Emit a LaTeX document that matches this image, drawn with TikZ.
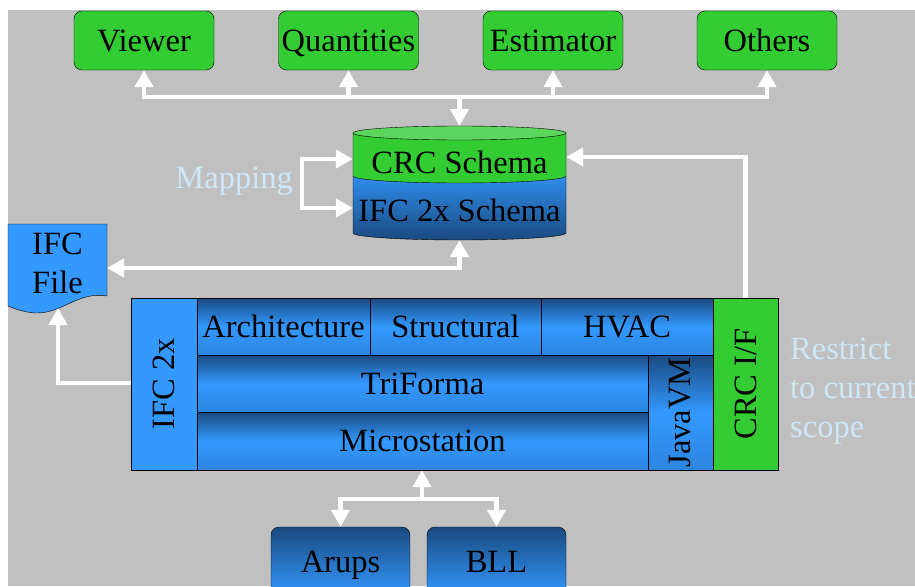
\documentclass[tikz,border=0pt]{standalone}
\usepackage{fontspec}
\setmainfont{Liberation Serif}
\usepackage{tikz}
\usetikzlibrary{arrows.meta,calc,positioning}

\definecolor{bggray}{HTML}{C0C0C0}
\definecolor{boxgreen}{HTML}{33CC33}
\definecolor{lidgreen}{HTML}{5CD65C}
\definecolor{layerblue}{HTML}{3399FF}
\definecolor{darkblue}{HTML}{1A4A80}
\definecolor{paleblue}{HTML}{CCE8F8}

\begin{document}
\begin{tikzpicture}[x=1pt,y=-1pt,
  every node/.style={font=\fontsize{32.5}{39}\selectfont,inner sep=0pt},
  >={Triangle[width=18pt,length=17pt]},
  capline/.style={text height=21.5pt,text depth=0pt},
  appbox/.style={capline,draw=black,rounded corners=8pt,fill=boxgreen,minimum width=140pt,minimum height=59pt},
  partner/.style={capline,draw=black,rounded corners=8pt,top color=darkblue,bottom color=layerblue,minimum width=139pt,minimum height=70pt},
  layer/.style={capline,draw=black,top color=darkblue,bottom color=layerblue!75!darkblue,middle color=layerblue},
  warrow/.style={draw=white,line width=4.5pt,->},
  note/.style={text=paleblue,align=left}]
  \useasboundingbox (0,0) rectangle (915,586);
  \fill[bggray] (8,10) rectangle (915,586);

  % 1) applications on top
  \node[appbox] (viewer) at (144,40.5)   {Viewer};
  \node[appbox] (quant)  at (348.5,40.5) {Quantities};
  \node[appbox] (estim)  at (553,40.5)   {Estimator};
  \node[appbox] (others) at (767,40.5)   {Others};

  % 2) schema cylinder
  \shade[top color=layerblue!85!darkblue,middle color=layerblue,bottom color=darkblue,draw=black]
    (353,176) -- (353,233) arc[start angle=180,end angle=360,x radius=106.5pt,y radius=7pt]
    -- (566,176) -- cycle;
  \fill[boxgreen,draw=black]
    (353,133) -- (353,176) arc[start angle=180,end angle=360,x radius=106.5pt,y radius=7pt]
    -- (566,133) -- cycle;
  \draw[fill=lidgreen] (459.5,133) ellipse[x radius=106.5pt,y radius=7pt];
  \node[capline,minimum width=213pt] (crcs) at (459.5,162.5) {CRC Schema};
  \node[capline,minimum width=213pt] (ifcs) at (459.5,211) {IFC 2x Schema};
  \coordinate (cyltop) at (459.5,126);
  \coordinate (cylbot) at (459.5,240);

  % 3) IFC file (document shape)
  \draw[fill=layerblue] (8,224) -- (107,224) -- (107,296)
    .. controls (78,291) and (62,314) .. (35,313)
    .. controls (22,312) and (13,308) .. (8,306) -- cycle;
  \node[align=center] (ifcfile) at (57.5,263) {IFC\\File};
  \coordinate (filein) at (107,268);
  \coordinate (filebot) at (58,308);

  % 4) the main block
  \node[draw=black,fill=layerblue,minimum width=66pt,minimum height=172pt] (ifc2x) at (164,384) {\rotatebox{90}{IFC 2x}};
  \node[layer,minimum width=173pt,minimum height=57pt] (arch)   at (283.5,326.5) {Architecture};
  \node[layer,minimum width=171pt,minimum height=57pt] (struct) at (455.5,326.5) {Structural};
  \node[layer,minimum width=172pt,minimum height=57pt] (hvac)   at (627,326.5)   {HVAC};
  \node[layer,minimum width=451pt,minimum height=57pt] (trif)   at (422.5,383.5) {TriForma};
  \node[layer,minimum width=451pt,minimum height=58pt] (micro)  at (422.5,441)   {Microstation};
  \node[draw=black,top color=darkblue,bottom color=layerblue!75!darkblue,middle color=layerblue,
        minimum width=65pt,minimum height=115pt] (jvm) at (680.5,412.5) {\rotatebox{90}{JavaVM}};
  \node[draw=black,fill=boxgreen,minimum width=65pt,minimum height=172pt] (crcif) at (745.5,384) {\rotatebox{90}{CRC I/F}};

  % 5) partners at the bottom
  \node[partner] (arups) at (340.5,562) {Arups};
  \node[partner] (bll)   at (496.5,562) {BLL};

  % side notes
  \node[note,anchor=east] (mapping) at (293,181) {Mapping};
  \node[note,anchor=west] (scope) at (790,391) {Restrict\\to current\\scope};

  % connectors
  \coordinate (hub) at (459.5,97);
  \draw[warrow] (hub) -| (viewer.south);
  \draw[warrow] (hub) -| (quant.south);
  \draw[warrow] (hub) -| (estim.south);
  \draw[warrow] (hub) -| (others.south);
  \draw[warrow] (hub) -- (cyltop);

  \draw[warrow,<->] (crcs.west |- 0,159) -- ++(-51,0) |- (ifcs.west |- 0,208);
  \draw[warrow] (crcif.north) |- (crcs.east |- 0,157);
  \draw[warrow,<->] (cylbot) |- (filein);
  \draw[warrow] (ifc2x.west |- 0,383) -| (filebot);

  \coordinate (hub2) at (422,499);
  \draw[warrow] (hub2) -- (hub2 |- micro.south);
  \draw[warrow] (hub2) -| (arups.north);
  \draw[warrow] (hub2) -| (bll.north);
\end{tikzpicture}
\end{document}
